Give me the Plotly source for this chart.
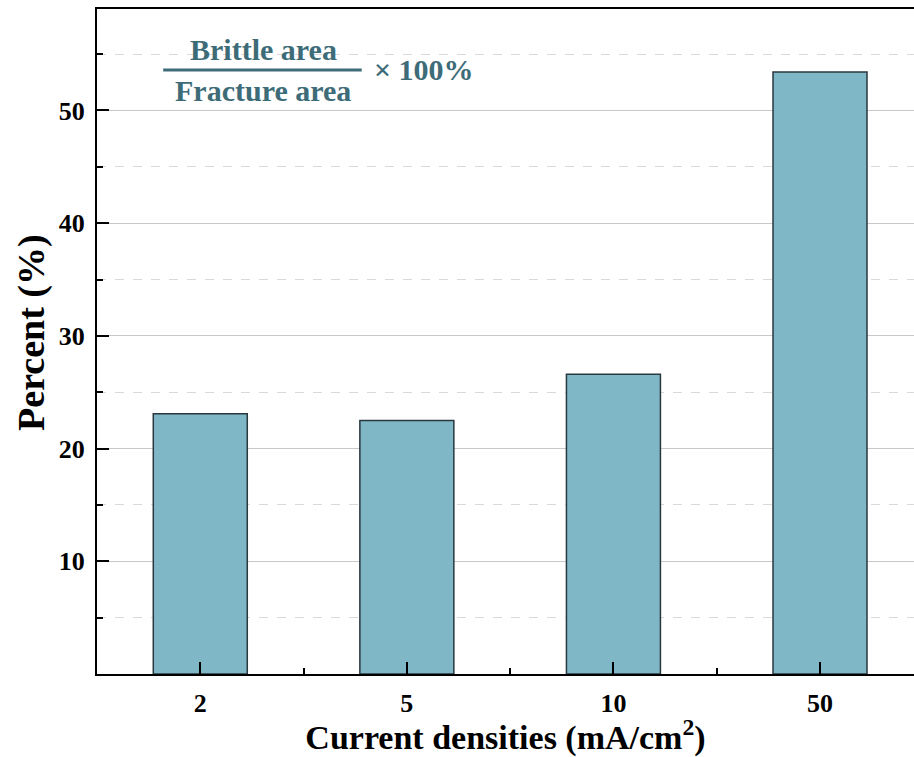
import plotly.graph_objects as go

# Brittle fraction of the fracture surface at each charging current density
current_densities = ["2", "5", "10", "50"]
brittle_percent = [23.1, 22.5, 26.6, 53.4]
y_ticks = [10, 20, 30, 40, 50]

FONT = "Liberation Serif, Times New Roman, serif"
TEAL = "#3d6c78"

x_pos = list(range(len(current_densities)))

fig = go.Figure()
fig.add_trace(go.Bar(
    x=x_pos,
    y=brittle_percent,
    width=0.455,
    marker=dict(color="#80b7c7", line=dict(color="#28383e", width=1.5)),
))

fig.update_layout(
    width=914, height=757,
    margin=dict(l=97, r=0, t=9, b=83),
    paper_bgcolor="white", plot_bgcolor="white",
    showlegend=False,
    font=dict(family=FONT, color="black"),
    xaxis=dict(
        range=[-0.5, 3.455],
        tickmode="array", tickvals=x_pos, ticktext=current_densities,
        ticks="inside", ticklen=12, tickwidth=2, tickcolor="black",
        minor=dict(dtick=0.5, tick0=-0.5, ticks="inside", ticklen=6,
                   tickwidth=2, tickcolor="black"),
        showline=True, linecolor="black", linewidth=2, mirror=True,
        showgrid=False, zeroline=False,
        ticklabelstandoff=5,
        tickfont=dict(family=FONT, size=26, color="black", weight="bold"),
        title=dict(text="<b>Current densities (mA/cm<sup>2</sup>)</b>",
                   font=dict(family=FONT, size=34, color="black"), standoff=14),
    ),
    yaxis=dict(
        range=[0, 59],
        tickmode="array", tickvals=y_ticks,
        ticks="inside", ticklen=12, tickwidth=2, tickcolor="black",
        minor=dict(tickvals=[5, 15, 25, 35, 45, 55], ticks="inside", ticklen=6,
                   tickwidth=2, tickcolor="black",
                   showgrid=True, gridcolor="#d9d9d9", griddash="dash", gridwidth=1),
        showline=True, linecolor="black", linewidth=2, mirror=False,
        showgrid=True, gridcolor="#c8c8c8", gridwidth=1, zeroline=False,
        ticklabelstandoff=5,
        tickfont=dict(family=FONT, size=26, color="black", weight="bold"),
    ),
)

# Y-axis title
fig.add_annotation(x=-0.0795, y=0.513, xref="paper", yref="paper",
                   xanchor="center", yanchor="middle", textangle=-90,
                   text="<b>Percent (%)</b>", showarrow=False,
                   font=dict(family=FONT, size=38, color="black"))

# Formula: Brittle area / Fracture area x 100%
fig.add_annotation(x=0.2035, y=0.939, xref="paper", yref="paper",
                   xanchor="center", yanchor="middle",
                   text="<b>Brittle area</b>", showarrow=False,
                   font=dict(family=FONT, size=30, color=TEAL))
fig.add_annotation(x=0.2035, y=0.878, xref="paper", yref="paper",
                   xanchor="center", yanchor="middle",
                   text="<b>Fracture area</b>", showarrow=False,
                   font=dict(family=FONT, size=30, color=TEAL))
fig.add_shape(type="line", xref="paper", yref="paper",
              x0=0.081, x1=0.324, y0=0.9082, y1=0.9082,
              line=dict(color=TEAL, width=3))
fig.add_annotation(x=0.3365, y=0.909, xref="paper", yref="paper",
                   xanchor="left", yanchor="middle",
                   text="<b>× 100%</b>", showarrow=False,
                   font=dict(family=FONT, size=30, color=TEAL))

fig.write_html("out.html")
